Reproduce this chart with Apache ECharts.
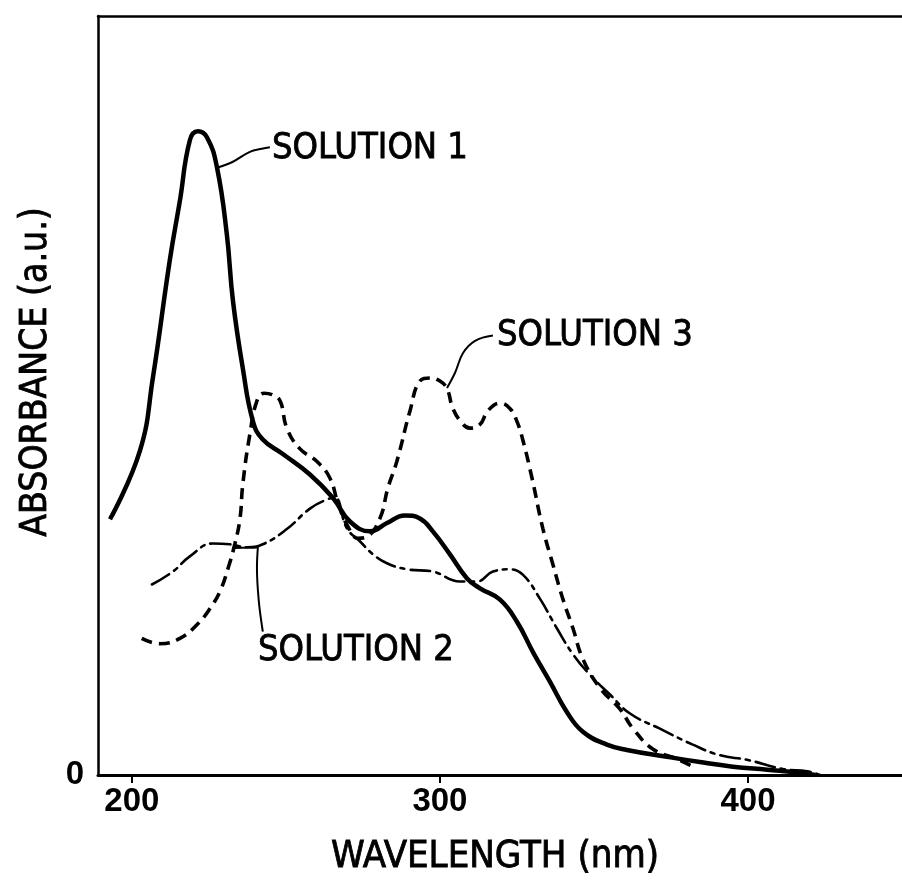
<!DOCTYPE html>
<html><head><meta charset="utf-8">
<script src="https://cdn.jsdelivr.net/npm/echarts@6/dist/echarts.min.js"></script>
<style>html,body{margin:0;padding:0;background:#fff}#c{width:902px;height:880px}</style>
</head><body><div id="c"></div>
<script>
// ---- data ----
const s1Wavelength = [192.9,202.6,206.8,212.3,215.6,218.8,221.4,224.4,227.6,230.8,232.8,236.0,239.3,242.5,249.0,257.8,265.3,270.8,277.3,282.8,288.6,293.5,297.7,303.2,308.8,313.0,319.5,325.0,330.2,335.7,341.2,346.4,354.2,360.7,373.7,384.4,395.1,406.2,416.9,421.8];
const s1Absorbance = [33.7,42.7,52.3,67.8,75.7,83.6,84.8,84.0,80.1,71.3,62.5,53.6,46.6,44.2,42.3,39.6,36.5,33.4,32.1,33.2,34.2,33.8,32.1,29.1,25.9,24.6,23.1,20.2,16.2,12.3,8.3,5.7,4.0,3.3,2.4,1.7,1.1,0.7,0.3,0];

const s2Wavelength = [206.5,213.3,218.8,226.3,231.8,237.3,242.5,250.3,257.8,263.3,265.9,269.8,274.0,278.2,282.8,289.3,297.7,306.5,312.0,317.2,322.7,326.9,332.5,338.0,343.2,348.7,355.2,361.7,371.4,382.1,390.9,399.7,411.4,419.2,423.4];
const s2Absorbance = [25.1,26.8,28.8,30.5,30.4,30.0,30.4,32.4,35.1,36.3,36.5,32.5,30.8,29.1,27.9,27.1,26.8,25.5,25.5,26.8,27.1,26.4,23.2,19.3,15.9,13.2,10.6,8.1,6.1,4.0,2.6,2.0,0.8,0.5,0];

const s3Wavelength = [203.2,209.1,215.6,221.1,225.3,228.6,231.2,233.4,235.1,236.0,238.3,240.6,242.9,245.5,248.1,250.3,254.5,260.1,264.3,266.9,269.8,273.4,276.3,280.5,283.1,286.0,290.3,293.5,296.8,300.0,302.3,304.2,307.1,309.7,313.0,315.6,319.5,322.7,325.0,327.0,329.9,333.4,336.7,339.9,343.2,346.4,351.9,358.4,362.7,369.2,377.0,382.1];
const s3Absorbance = [18.0,17.3,18.0,19.8,21.9,24.2,27.2,30.4,33.8,38.3,44.9,49.3,50.3,50.1,49.3,45.7,43.0,41.3,39.1,35.8,33.0,31.2,31.4,33.8,37.8,41.3,48.0,51.9,52.3,51.9,50.9,48.3,46.4,45.7,46.2,48.0,49.0,48.3,46.6,44.0,39.1,32.5,27.7,23.2,19.3,15.3,11.5,8.7,6.1,3.4,2.1,1.1];

// leader lines from the curves to their labels
const lead1Wavelength = [227.6,232.8,238.3,242.2,244.8];
const lead1Absorbance = [80.0,80.8,82.1,82.5,82.7];
const lead2Wavelength = [233.4,240.9,240.6,241.2,242.5];
const lead2Absorbance = [29.9,30.0,27.3,22.9,18.9];
const lead3Wavelength = [302.3,304.9,307.5,311.4,317.2];
const lead3Absorbance = [51.0,53.0,55.6,57.2,57.9];

const labelTexts = ['SOLUTION 1','SOLUTION 2','SOLUTION 3'];
const labelWavelength = [245.5,240.9,318.5];
const labelAbsorbance = [82.5,16.4,57.9];

const xTickValues = [200,300,400];
const yTickValues = [0];
const xTitle = 'WAVELENGTH (nm)';
const yTitle = 'ABSORBANCE (a.u.)';

// ---- chart ----
const zip = (a,b) => a.map((v,i) => [v,b[i]]);
const FONT = "'Liberation Sans Narrow','DejaVu Sans Condensed','Liberation Sans',sans-serif";
const DIGITFONT = "'Liberation Sans',Arial,sans-serif";
const chart = echarts.init(document.getElementById('c'));
const lead = d => ({type:'line', data:d, smooth:0.4, symbol:'none', silent:true,
  lineStyle:{color:'#000', width:2}, z:3});
chart.setOption({
  animation:false,
  backgroundColor:'#fff',
  grid:{left:98, right:0, top:16, bottom:105, containLabel:false},
  xAxis:[{
    type:'value', min:189, max:450, position:'bottom',
    axisLine:{show:true, onZero:false, lineStyle:{color:'#000', width:3}},
    axisTick:{show:true, customValues:xTickValues, length:8, inside:false, lineStyle:{color:'#000', width:2}},
    axisLabel:{show:true, customValues:xTickValues, color:'#000', fontFamily:DIGITFONT, fontWeight:'bold', fontSize:33, margin:10},
    splitLine:{show:false}
  },{
    type:'value', min:189, max:450, position:'top',
    axisLine:{show:true, onZero:false, lineStyle:{color:'#000', width:2.5}},
    axisTick:{show:false}, axisLabel:{show:false}, splitLine:{show:false}
  }],
  yAxis:{
    type:'value', min:0, max:100,
    axisLine:{show:true, onZero:false, lineStyle:{color:'#000', width:2.5}},
    axisTick:{show:false},
    axisLabel:{show:true, customValues:yTickValues, color:'#000', fontFamily:DIGITFONT, fontWeight:'bold', fontSize:33, margin:14},
    splitLine:{show:false}
  },
  graphic:[
    {type:'text', x:36, y:372, rotation:Math.PI/2,
     style:{text:yTitle, fill:'#000', fontFamily:FONT, fontWeight:'normal', fontSize:37, align:'center', verticalAlign:'middle',
       stroke:'#000', lineWidth:0.8}},
    {type:'text', x:495, y:857,
     style:{text:xTitle, fill:'#000', fontFamily:FONT, fontWeight:'normal', fontSize:38, align:'center', verticalAlign:'middle',
       stroke:'#000', lineWidth:0.8}}
  ],
  series:[
    {name:'SOLUTION 1', type:'line', data:zip(s1Wavelength,s1Absorbance), smooth:0.45, symbol:'none',
     lineStyle:{color:'#000', width:4.5}, z:5},
    {name:'SOLUTION 2', type:'line', data:zip(s2Wavelength,s2Absorbance), smooth:0.45, symbol:'none',
     lineStyle:{color:'#000', width:2.6, type:[20,6,4,6], cap:'round'}, z:4},
    {name:'SOLUTION 3', type:'line', data:zip(s3Wavelength,s3Absorbance), smooth:0.45, symbol:'none',
     lineStyle:{color:'#000', width:3.6, type:[11,7]}, z:4},
    lead(zip(lead1Wavelength,lead1Absorbance)),
    lead(zip(lead2Wavelength,lead2Absorbance)),
    lead(zip(lead3Wavelength,lead3Absorbance)),
    {type:'scatter', symbolSize:0, silent:true, itemStyle:{opacity:1},
     data:labelTexts.map((t,i)=>({name:t, value:[labelWavelength[i],labelAbsorbance[i]]})),
     label:{show:true, position:'right', distance:0, formatter:p=>p.name, color:'#000', opacity:1,
       fontFamily:FONT, fontWeight:'normal', fontSize:36, textBorderColor:'#000', textBorderWidth:0.8}}
  ]
});
</script></body></html>
